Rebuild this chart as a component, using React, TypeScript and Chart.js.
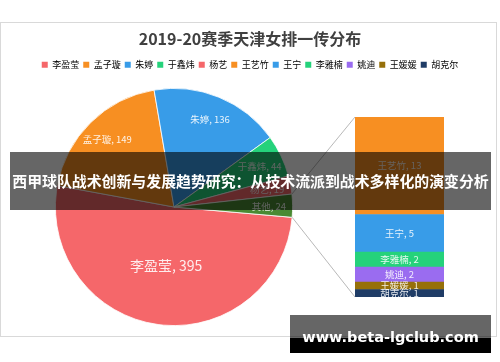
import React, { useEffect, useRef } from "react";
import { Chart, registerables } from "chart.js";

Chart.register(...registerables);

const titleText = "2019-20赛季天津女排一传分布";
const pieNames = ["李盈莹", "孟子璇", "朱婷", "于鑫炜", "杨艺", "其他"];
const pieValues = [395, 149, 136, 44, 19, 24];
const pieColors = ["#F5676A", "#F78F22", "#389CE8", "#25D27B", "#F5676A", "#4A8A33"];
const barNames = ["王艺竹", "王宁", "李雅楠", "姚迪", "王媛媛", "胡克尔"];
const barValues = [13, 5, 2, 2, 1, 1];
const barColors = ["#F78F22", "#389CE8", "#25D27B", "#9A6CF0", "#96700A", "#1F3C66"];
const legendNames = ["李盈莹", "孟子璇", "朱婷", "于鑫炜", "杨艺", "王艺竹", "王宁", "李雅楠", "姚迪", "王媛媛", "胡克尔"];
const legendColors = ["#F5676A", "#F78F22", "#389CE8", "#25D27B", "#F5676A", "#F78F22", "#389CE8", "#25D27B", "#9A6CF0", "#96700A", "#1F3C66"];
const bannerText = "西甲球队战术创新与发展趋势研究：从技术流派到战术多样化的演变分析";
const watermarkText = "www.beta-lgclub.com";

const FONT = "'Noto Sans CJK SC', 'Noto Sans', sans-serif";
const W = 500;
const H = 362;

export default function App() {
  const pieRef = useRef<HTMLCanvasElement | null>(null);
  const barRef = useRef<HTMLCanvasElement | null>(null);

  useEffect(() => {
    document.body.style.margin = "0";
    const pieArea = { left: 55, top: 88, right: 293, bottom: 326 };

    const pieLabelPlugin = {
      id: "pieLabels",
      afterLayout(chart: any) {
        Object.assign(chart.chartArea, {
          left: pieArea.left,
          top: pieArea.top,
          right: pieArea.right,
          bottom: pieArea.bottom,
          width: pieArea.right - pieArea.left,
          height: pieArea.bottom - pieArea.top,
        });
      },
      afterDatasetsDraw(chart: any) {
        const ctx = chart.ctx;
        const meta = chart.getDatasetMeta(0);
        ctx.save();
        ctx.textAlign = "center";
        ctx.textBaseline = "middle";
        meta.data.forEach((arc: any, i: number) => {
          const p = arc.getProps(["x", "y", "startAngle", "endAngle", "outerRadius"], true);
          const mid = (p.startAngle + p.endAngle) / 2;
          const f = i === 0 ? 0.5 : 0.8;
          const x = p.x + Math.cos(mid) * p.outerRadius * f;
          const y = p.y + Math.sin(mid) * p.outerRadius * f;
          ctx.font = (i === 0 ? "14px " : "9.5px ") + FONT;
          ctx.fillStyle = "rgba(255,255,255,0.88)";
          ctx.fillText(pieNames[i] + ", " + pieValues[i], x, y);
        });
        ctx.restore();
      },
    };

    const pie = new Chart(pieRef.current as HTMLCanvasElement, {
      type: "pie",
      data: {
        labels: pieNames,
        datasets: [
          {
            data: pieValues,
            backgroundColor: pieColors,
            borderColor: "#ffffff",
            borderWidth: 0.8,
            clip: false as any,
          },
        ],
      },
      options: {
        responsive: false,
        animation: false,
        rotation: 95,
        layout: { padding: 0 },
        plugins: {
          tooltip: { enabled: false },
          title: {
            display: true,
            text: titleText,
            color: "#404040",
            font: { family: FONT, size: 16, weight: "bold" },
            padding: { top: 29, bottom: 8 },
          },
          legend: {
            display: true,
            position: "top",
            labels: {
              color: "#595959",
              font: { family: FONT, size: 9 },
              boxWidth: 6,
              boxHeight: 6,
              padding: 4,
              generateLabels: () =>
                legendNames.map((n, i) => ({
                  text: n,
                  fillStyle: legendColors[i],
                  strokeStyle: legendColors[i],
                  lineWidth: 0,
                  hidden: false,
                  index: i,
                })),
            },
          },
        },
      },
      plugins: [pieLabelPlugin],
    });

    const barLabelPlugin = {
      id: "barLabels",
      afterDatasetsDraw(chart: any) {
        const ctx = chart.ctx;
        ctx.save();
        ctx.textAlign = "center";
        ctx.textBaseline = "middle";
        ctx.font = "9.5px " + FONT;
        ctx.fillStyle = "rgba(255,255,255,0.88)";
        chart.data.datasets.forEach((ds: any, di: number) => {
          const el = chart.getDatasetMeta(di).data[0];
          const p = el.getProps(["x", "y", "base"], true);
          ctx.fillText(ds.label + ", " + ds.data[0], p.x, (p.y + p.base) / 2);
        });
        ctx.restore();
      },
      afterDraw(chart: any) {
        const arc = pie.getDatasetMeta(0).data[pieValues.length - 1] as any;
        if (!arc) return;
        const a = arc.getProps(["x", "y", "startAngle", "endAngle", "outerRadius"], true);
        const n = chart.data.datasets.length;
        const topEl = chart.getDatasetMeta(n - 1).data[0] as any;
        const botEl = chart.getDatasetMeta(0).data[0] as any;
        const t = topEl.getProps(["x", "y", "width", "base"], true);
        const b = botEl.getProps(["x", "y", "width", "base"], true);
        const ctx = chart.ctx;
        ctx.save();
        ctx.strokeStyle = "#a6a6a6";
        ctx.lineWidth = 0.8;
        ctx.beginPath();
        ctx.moveTo(a.x + Math.cos(a.startAngle) * a.outerRadius, a.y + Math.sin(a.startAngle) * a.outerRadius);
        ctx.lineTo(t.x - t.width / 2, t.y);
        ctx.moveTo(a.x + Math.cos(a.endAngle) * a.outerRadius, a.y + Math.sin(a.endAngle) * a.outerRadius);
        ctx.lineTo(b.x - b.width / 2, b.base);
        ctx.stroke();
        ctx.restore();
      },
    };

    const order = barNames.map((_, i) => i).reverse();
    const bar = new Chart(barRef.current as HTMLCanvasElement, {
      type: "bar",
      data: {
        labels: ["其他"],
        datasets: order.map((i) => ({
          label: barNames[i],
          data: [barValues[i]],
          backgroundColor: barColors[i],
          borderWidth: 0,
          barPercentage: 1,
          categoryPercentage: 1,
        })),
      },
      options: {
        responsive: false,
        animation: false,
        layout: { padding: { left: 355, top: 117, right: W - 444, bottom: H - 297 } },
        scales: {
          x: { display: false, stacked: true },
          y: { display: false, stacked: true, min: 0, max: barValues.reduce((s, v) => s + v, 0) },
        },
        plugins: { legend: { display: false }, tooltip: { enabled: false }, title: { display: false } },
      },
      plugins: [barLabelPlugin],
    });

    return () => {
      bar.destroy();
      pie.destroy();
    };
  }, []);

  return (
    <div style={{ position: "fixed", left: 0, top: 0, width: W, height: H, background: "#ffffff", overflow: "hidden" }}>
      <div
        style={{
          position: "absolute",
          left: 0,
          top: 22,
          width: 497,
          height: 315,
          border: "1px solid #d9d9d9",
          boxSizing: "border-box",
        }}
      />
      <canvas ref={pieRef} width={W} height={H} style={{ position: "absolute", left: 0, top: 0 }} />
      <canvas ref={barRef} width={W} height={H} style={{ position: "absolute", left: 0, top: 0 }} />
      <div
        style={{
          position: "absolute",
          left: 10,
          top: 152,
          width: 481,
          height: 58,
          background: "rgba(0,0,0,0.6)",
          color: "#ffffff",
          fontFamily: FONT,
          fontWeight: "bold",
          fontSize: 14.9,
          lineHeight: "58px",
          textAlign: "center",
          whiteSpace: "nowrap",
          letterSpacing: 0,
        }}
      >
        {bannerText}
      </div>
      <div style={{ position: "absolute", left: 290, top: 315, width: 201, height: 23, background: "rgba(0,0,0,0.6)" }} />
      <div style={{ position: "absolute", left: 290, top: 338, width: 201, height: 15, background: "#000000" }} />
      <div
        style={{
          position: "absolute",
          left: 290,
          top: 315,
          width: 201,
          height: 38,
          color: "#ffffff",
          fontFamily: "'DejaVu Sans', sans-serif",
          fontWeight: "bold",
          fontSize: 14.5,
          lineHeight: "44px",
          textAlign: "center",
          whiteSpace: "nowrap",
        }}
      >
        {watermarkText}
      </div>
    </div>
  );
}
